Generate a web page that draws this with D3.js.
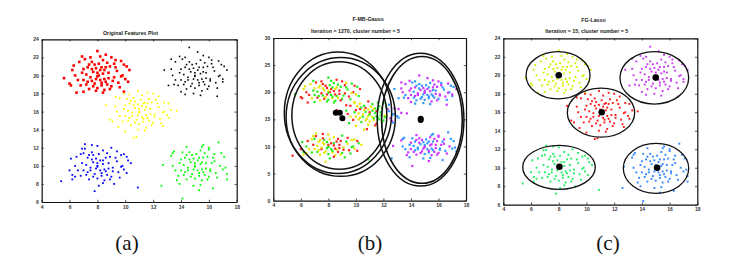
<!DOCTYPE html>
<html><head><meta charset="utf-8">
<script src="https://cdn.jsdelivr.net/npm/d3@7"></script>
<style>
html,body{margin:0;padding:0;background:#fff;}
svg{display:block;}
.tick text{font-family:"Liberation Sans",Arial,sans-serif;font-size:5px;font-weight:bold;fill:#333;}
</style></head><body>
<svg id="c" width="740" height="267"></svg>
<script>
// ---- data: five groups of points (x, y) ----
const groupA = [[8.1,20.0],[7.6,19.4],[8.5,20.6],[9.2,19.8],[6.9,20.3],[7.8,21.2],[8.3,18.9],[8.9,21.0],[7.2,19.0],[8.0,22.7],
[6.2,20.6],[5.6,19.7],[6.0,19.1],[6.5,18.1],[7.0,18.2],[9.9,18.2],[10.3,20.6],[10.2,19.3],[9.7,21.6],[9.3,21.7],
[7.5,22.0],[8.2,22.1],[6.7,21.5],[8.6,19.3],[7.9,19.6],[8.4,20.2],[8.2,19.5],[7.7,20.4],[8.8,20.3],[8.0,18.6],
[8.5,18.4],[7.4,18.5],[9.5,19.2],[9.0,18.8],[6.6,19.5],[7.3,20.9],[8.7,21.4],[9.8,20.0],[10.1,21.0],[6.3,21.1],
[7.1,21.8],[8.4,21.7],[7.9,20.8],[8.6,20.9],[9.4,20.5],[7.5,19.8],[8.3,19.2],[8.0,20.3],[7.7,18.8],[9.1,19.4],
[6.8,18.9],[7.2,20.1],[8.9,18.5],[9.6,18.7],[10.0,19.6],[7.6,21.5],[8.1,21.3],[6.4,20.0],[7.0,19.5],[8.7,19.0],
[9.3,20.9],[8.2,20.6],[7.8,19.1],[8.4,18.1],[9.0,22.0],[6.9,22.1],[7.4,21.2],[8.8,19.7],[7.9,18.3],[8.6,22.3],
[9.7,19.9],[6.1,18.9],[7.3,19.3],[8.0,19.9],[8.5,19.6],[7.6,20.7],[9.2,21.3],[8.3,20.9],[7.0,20.7],[9.9,21.2]];
const groupB = [[15.0,20.0],[14.5,19.5],[15.6,20.4],[16.1,19.6],[13.9,20.3],[14.8,21.2],[15.3,18.9],[15.9,21.0],[14.2,19.0],[14.6,23.1],
[13.3,20.7],[12.8,20.6],[13.5,19.0],[14.0,18.2],[14.3,17.9],[16.6,17.7],[17.3,20.6],[17.0,19.3],[16.7,21.6],[16.2,21.7],
[14.3,22.0],[15.2,22.6],[13.6,21.5],[15.6,19.3],[14.9,19.6],[15.4,20.2],[15.2,19.5],[14.7,20.4],[15.8,20.3],[15.0,18.6],
[15.5,18.3],[14.4,18.5],[16.5,19.2],[16.0,18.8],[13.6,19.5],[14.3,20.9],[15.7,21.4],[16.8,20.0],[17.1,21.0],[13.3,21.8],
[14.1,21.8],[15.4,21.7],[14.9,20.8],[15.6,20.9],[16.4,20.5],[14.5,19.8],[15.3,19.2],[15.0,20.3],[14.7,18.8],[16.1,19.4],
[13.8,18.9],[14.2,20.1],[15.9,18.5],[16.6,18.6],[17.0,19.6],[14.6,21.5],[15.1,21.3],[13.4,20.0],[14.0,19.5],[15.7,19.0],
[16.3,20.9],[15.2,20.6],[14.8,19.1],[15.4,17.8],[16.0,22.0],[13.9,22.1],[14.4,21.2],[15.8,19.7],[14.9,18.0],[15.6,22.2],
[16.7,19.9],[13.1,18.9],[14.3,19.3],[15.0,19.9],[15.5,19.6],[14.6,20.7],[16.2,21.3],[15.3,20.9],[14.0,20.7],[16.9,21.2]];
const groupC = [[11.0,16.0],[10.5,15.5],[11.5,16.5],[12.1,15.7],[9.9,16.3],[10.7,17.1],[11.3,14.9],[11.9,17.0],[10.2,15.0],[10.9,18.3],
[9.3,16.6],[8.6,16.7],[8.9,15.1],[9.5,14.3],[10.0,13.8],[10.8,13.2],[10.6,13.1],[12.7,14.4],[13.7,16.1],[13.1,15.3],
[12.8,17.0],[12.4,17.7],[10.3,17.9],[11.2,17.8],[9.6,17.5],[11.6,15.3],[10.9,15.6],[11.4,16.2],[11.2,15.4],[10.7,16.4],
[11.8,16.3],[11.0,14.6],[11.5,14.2],[10.4,14.5],[12.5,15.2],[12.0,14.8],[9.6,15.5],[10.3,16.9],[11.7,17.4],[12.8,16.0],
[13.1,16.9],[9.3,17.6],[10.1,17.4],[11.4,17.0],[10.9,16.8],[11.6,16.9],[12.4,16.5],[10.5,15.9],[11.3,15.2],[11.0,16.3],
[10.7,14.8],[12.1,15.4],[9.8,14.9],[10.2,16.1],[11.9,14.5],[12.6,14.7],[13.0,15.6],[10.6,17.5],[11.1,17.3],[9.4,16.0],
[10.0,15.5],[11.7,15.0],[12.3,16.9],[11.2,16.6],[10.8,15.1],[11.4,13.9],[12.0,18.0],[9.9,18.0],[10.4,17.2],[11.8,15.7],
[10.9,14.0],[11.6,18.1],[12.7,15.9],[9.1,14.9],[10.3,15.3],[11.0,15.9],[11.5,15.6],[10.6,16.7],[12.2,17.3],[11.3,16.9],
[10.0,16.7],[13.3,16.2]];
const groupD = [[8.0,10.0],[7.5,9.5],[8.4,10.6],[9.1,9.8],[6.9,10.3],[7.7,11.2],[8.3,8.9],[8.9,11.0],[7.2,9.0],[7.1,12.4],
[7.6,12.3],[8.0,12.2],[6.1,10.8],[6.0,9.5],[6.2,9.0],[6.4,8.8],[5.4,8.3],[6.2,8.5],[7.8,7.2],[8.1,7.8],
[9.2,8.0],[9.9,9.6],[10.1,9.2],[10.4,10.3],[10.2,10.6],[10.1,11.0],[10.9,7.6],[9.9,11.3],[9.4,11.6],[9.7,11.2],
[7.1,11.9],[6.8,11.3],[8.6,9.4],[7.9,9.7],[8.4,10.2],[8.2,9.5],[7.7,10.4],[8.8,10.3],[8.0,8.6],[8.5,8.4],
[7.4,8.5],[9.5,9.3],[9.0,8.8],[6.6,9.5],[7.3,10.9],[8.7,11.4],[9.8,10.0],[6.5,11.0],[7.0,11.4],[8.4,11.7],
[7.9,10.8],[8.6,10.9],[9.4,10.5],[7.5,9.8],[8.3,9.2],[8.0,10.3],[7.7,8.8],[9.1,9.4],[6.8,8.9],[7.2,10.1],
[8.9,8.5],[9.6,8.7],[7.6,11.5],[8.1,11.3],[6.4,10.0],[7.0,9.5],[8.7,9.0],[9.3,10.9],[8.2,10.6],[7.8,9.1],
[8.4,8.1],[9.0,12.0],[6.9,11.9],[7.4,11.2],[8.8,9.7],[9.7,9.9],[7.3,9.3],[8.0,9.9],[8.5,9.6],[7.6,10.7]];
const groupE = [[15.0,10.0],[14.5,9.5],[15.5,10.4],[16.1,9.6],[13.9,10.3],[14.8,11.2],[15.3,8.9],[15.9,11.0],[14.2,9.0],[13.5,11.6],
[13.4,11.4],[12.7,10.1],[12.6,7.8],[14.1,6.4],[15.3,7.3],[16.3,7.5],[16.7,12.6],[17.3,8.5],[17.2,9.8],[16.4,11.3],
[16.0,11.8],[15.6,12.3],[15.5,12.1],[14.4,12.1],[15.6,9.3],[14.9,9.6],[15.4,10.2],[15.2,9.5],[14.7,10.4],[15.8,10.3],
[15.0,8.6],[15.5,8.4],[14.4,8.5],[16.5,9.2],[16.0,8.8],[13.6,9.5],[14.3,10.9],[15.7,11.4],[16.8,10.0],[17.1,11.0],
[13.3,11.1],[14.1,11.5],[15.4,11.7],[14.9,10.8],[15.6,10.9],[16.4,10.5],[14.5,9.8],[15.3,9.2],[15.0,10.3],[14.7,8.8],
[16.1,9.4],[13.8,8.9],[14.2,10.1],[15.9,8.5],[16.6,8.7],[17.0,9.6],[14.6,11.5],[15.1,11.3],[13.4,10.0],[14.0,9.5],
[15.7,9.0],[16.3,10.9],[15.2,10.6],[14.8,9.1],[15.4,7.9],[16.0,12.0],[13.9,8.0],[14.4,11.2],[15.8,9.7],[14.9,7.8],
[16.9,11.4],[13.7,8.4],[14.3,9.3],[15.0,9.9],[15.5,9.6],[14.6,10.7],[16.2,10.3],[15.3,10.9],[14.0,10.7],[17.3,9.1]];
const groups = [groupA, groupB, groupC, groupD, groupE];

// panel (a) colours per group
const colorsA = ["#ff0000", "#000000", "#ffff00", "#0000ff", "#00ff00"];
const sizesA = [2.6, 1.6, 1.8, 1.8, 1.8];
// panel (b) per-point labels
const labelsB = [
 "rgyrgrygrg ygrrgyrggy rgygrrgyrg gyrgrygrgy rgrygrgyrg ygrgyrgrgy grygrgyrgr yrggryrgyr",
 "bmbmmbbmbm mbbmbmmbmb bmmbbmbmbb mbmbbmmbbm bbmmbmbmbm mbmbmbbmmb bmbbmmbmbm mbmmbbmbmb",
 "ygrygrygyr grygyrybmb mbygrgygyg gyrgmgyrgb mrygygbygr ygrygmbgyr ygmgyrgygg ygbryggygy rm",
 "yrgyrgyrgy rygrgyryyg gyrygrgyry ryygrgyrgy yrgyyrgrgy gryygryrgy ygrygyrgry rgyyrgygry",
 "mbmbbmbmmb bmbmmbbmbm mbbmbmmbbm bmmbmbbmmb mbmbbmbmbm bmbmmbmbbm mbbmbmbmmb bmbmbmmbmb"
];
const colorsB = {r:"#ff2222", g:"#22ee22", y:"#e6e600", b:"#3399ff", m:"#cc33ff"};
// panel (c) colours per group
const colorsC = ["#d4f000", "#c83cf0", "#ff1a1a", "#22ee66", "#3388ff"];

// ellipses
const ellipsesB = [
 {cx:8.7, cy:16.2, rx:3.9, ry:11.2},
 {cx:8.9, cy:15.45, rx:3.97, ry:10.95},
 {cx:8.8, cy:15.7, rx:3.45, ry:9.9},
 {cx:14.7, cy:14.95, rx:3.15, ry:12.25},
 {cx:14.8, cy:14.9, rx:2.93, ry:11.7}
];
const centersB = [[8.54,16.2],[8.83,16.2],[9.02,15.2],[14.71,15.1],[14.71,14.9]];
const ellipsesC = [
 {cx:7.95, cy:20.0, rx:2.31, ry:2.55},
 {cx:14.9, cy:19.72, rx:2.48, ry:2.83},
 {cx:11.05, cy:15.96, rx:2.43, ry:2.66},
 {cx:8.02, cy:10.04, rx:2.62, ry:2.38},
 {cx:15.02, cy:9.93, rx:2.36, ry:2.7}
];
const centersC = [[8.0,20.0],[15.0,19.75],[11.1,16.0],[8.05,10.1],[15.1,10.0]];

const xTicks = [4,6,8,10,12,14,16,18];
const yTicksAC = [6,8,10,12,14,16,18,20,22,24];
const yTicksB = [0,5,10,15,20,25,30];

const titlesA = ["Original Features Plot"];
const titlesB = ["F-MB-Gauss", "Iteration = 1270, cluster number = 5"];
const titlesC = ["FG-Lasso", "Iteration = 15, cluster number = 5"];
const panelLabels = ["(a)", "(b)", "(c)"];

const svg = d3.select("#c");
svg.append("rect").attr("width",740).attr("height",267).attr("fill","#fff");

function panel(opt){
  const x = d3.scaleLinear().domain([4,18]).range([opt.l, opt.r]);
  const y = d3.scaleLinear().domain(opt.yDom).range([opt.b, opt.t]);
  const g = svg.append("g");
  // marks
  const pts = g.append("g");
  groups.forEach((grp, gi) => {
    grp.forEach((p, i) => {
      const c = opt.color(gi, i);
      const s = opt.size(gi);
      pts.append("rect")
        .attr("x", x(p[0]) - s/2).attr("y", y(p[1]) - s/2)
        .attr("width", s).attr("height", s).attr("fill", c);
    });
  });
  // axes
  const mk = (a, ticks, lab) => a.tickValues(ticks).tickSizeInner(-2.2).tickSizeOuter(0).tickPadding(lab ? 3 : 0)
        .tickFormat(lab ? d3.format("d") : "");
  const styleAxis = sel => { sel.selectAll("path.domain").attr("stroke","#111").attr("stroke-width",1.2);
      sel.selectAll(".tick line").attr("stroke","#222").attr("stroke-width",0.8);
      sel.selectAll("text").attr("font-size",5).attr("font-family",null); };
  g.append("g").attr("transform",`translate(0,${opt.b})`).call(mk(d3.axisBottom(x), xTicks, true)).call(styleAxis);
  g.append("g").attr("transform",`translate(0,${opt.t})`).call(mk(d3.axisTop(x), xTicks, false)).call(styleAxis);
  g.append("g").attr("transform",`translate(${opt.l},0)`).call(mk(d3.axisLeft(y), opt.yTicks, true)).call(styleAxis);
  g.append("g").attr("transform",`translate(${opt.r},0)`).call(mk(d3.axisRight(y), opt.yTicks, false)).call(styleAxis);
  // ellipses
  (opt.ellipses||[]).forEach(e => {
    g.append("ellipse").attr("cx", x(e.cx)).attr("cy", y(e.cy))
      .attr("rx", x(e.cx+e.rx)-x(e.cx)).attr("ry", y(e.cy)-y(e.cy+e.ry))
      .attr("fill","none").attr("stroke","#111").attr("stroke-width",opt.ew);
  });
  (opt.centers||[]).forEach(c => {
    g.append("circle").attr("cx", x(c[0])).attr("cy", y(c[1])).attr("r", opt.cr).attr("fill","#000");
  });
  // titles
  opt.titles.forEach((t, i) => {
    g.append("text").attr("x", opt.tx[i]).attr("y", opt.ty[i]).attr("text-anchor","middle")
      .attr("font-family","Liberation Sans, Arial, sans-serif").attr("font-weight","bold")
      .attr("font-size",5.3).attr("fill","#222").text(t);
  });
  g.append("text").attr("x", opt.lx).attr("y", 250).attr("text-anchor","middle")
    .attr("font-family","Liberation Serif, Times New Roman, serif").attr("font-size",21)
    .attr("fill","#111").text(opt.label);
}

panel({l:41.7, r:236.7, t:39.3, b:202, yDom:[6,24], yTicks:yTicksAC,
  color:(gi)=>colorsA[gi], size:(gi)=>sizesA[gi],
  titles:titlesA, tx:[130.5], ty:[34.5], label:panelLabels[0], lx:127});

panel({l:273.3, r:466, t:38, b:200.7, yDom:[0,30], yTicks:yTicksB,
  color:(gi,i)=>colorsB[labelsB[gi].replace(/ /g,"")[i]] || colorsB.r, size:()=>2.2,
  ellipses:ellipsesB, ew:1.5, centers:centersB, cr:3.0,
  titles:titlesB, tx:[368,355.5], ty:[20.5,33], label:panelLabels[1], lx:370});

panel({l:503.3, r:697.3, t:38.3, b:204.7, yDom:[6,24], yTicks:yTicksAC,
  color:(gi)=>colorsC[gi], size:()=>1.9,
  ellipses:ellipsesC, ew:1.3, centers:centersC, cr:3.3,
  titles:titlesC, tx:[593.5,586.8], ty:[21.5,33], label:panelLabels[2], lx:608});
</script>
</body></html>
